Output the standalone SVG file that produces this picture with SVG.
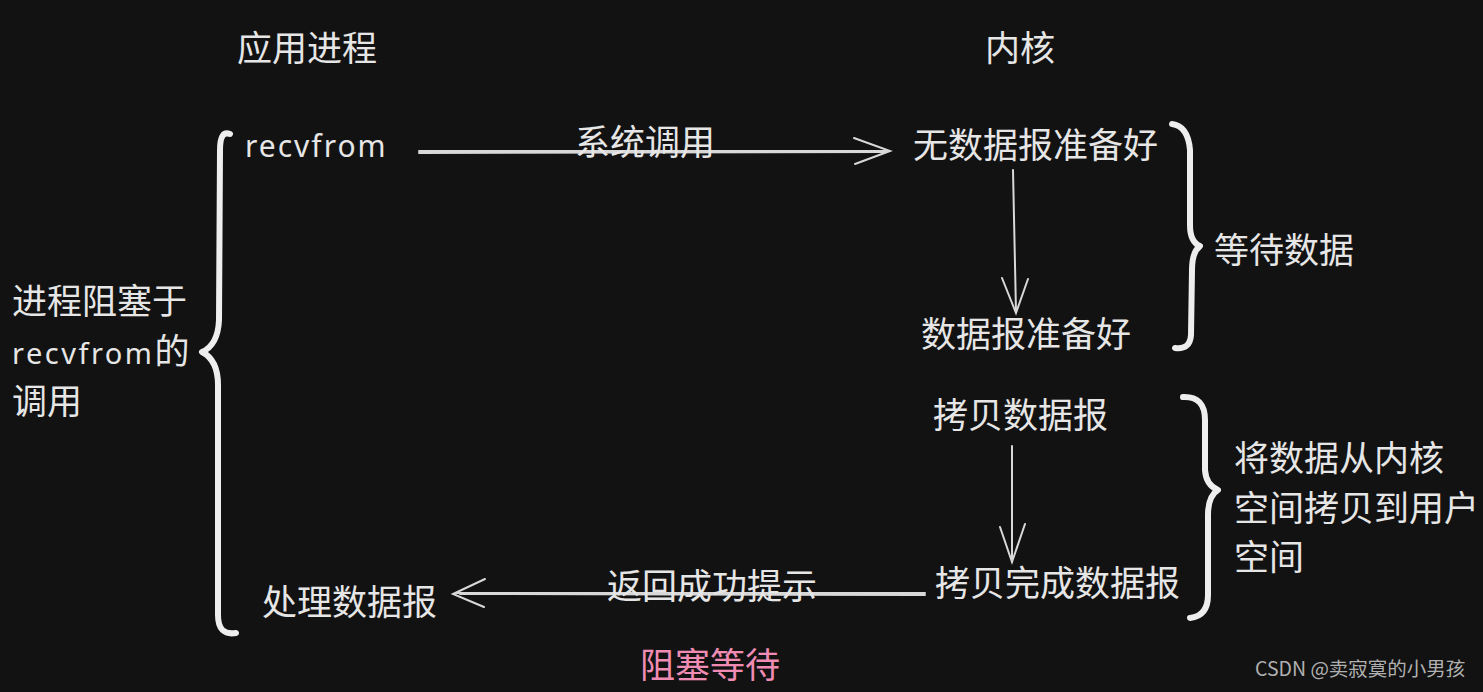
<svg xmlns="http://www.w3.org/2000/svg" width="1483" height="692" viewBox="0 0 1483 692">
<defs>
<style>
.t{font-family:"Noto Sans CJK SC","Noto Sans",sans-serif;font-size:35px;fill:#e6e6e6}
.hw{font-family:"Noto Sans","Liberation Sans",sans-serif;font-size:30px;letter-spacing:2px;fill:#e6e6e6}
.ln{stroke:#d8d8d8;stroke-width:2;fill:none;stroke-linecap:round}
.br{stroke:#eeeeee;stroke-width:6;fill:none;stroke-linecap:round;stroke-linejoin:round}
</style>
</defs>
<rect width="1483" height="692" fill="#121212"/>
<g id="hdr-app"><text class="t" x="237" y="61">应用进程</text></g>
<g id="hdr-kernel"><text class="t" x="985" y="61">内核</text></g>
<g id="recvfrom"><text class="hw" x="245" y="157">recvfrom</text></g>
<g id="no-data"><text class="t" x="913" y="158">无数据报准备好</text></g>
<g id="data-ready"><text class="t" x="921" y="347">数据报准备好</text></g>
<g id="wait-data"><text class="t" x="1214" y="263">等待数据</text></g>
<g id="copy"><text class="t" x="933" y="428">拷贝数据报</text></g>
<g id="copy-done"><text class="t" x="935" y="596">拷贝完成数据报</text></g>
<g id="copy-label">
<text class="t" x="1234" y="471">将数据从内核</text>
<text class="t" x="1234" y="521">空间拷贝到用户</text>
<text class="t" x="1234" y="570">空间</text>
</g>
<g id="blocked">
<text class="t" x="12" y="314">进程阻塞于</text>
<text class="t" x="12" y="364"><tspan class="hw" style="font-size:29px;letter-spacing:2.5px">recvfrom</tspan>的</text>
<text class="t" x="12" y="414">调用</text>
</g>
<g id="handle"><text class="t" x="262" y="615">处理数据报</text></g>
<g id="block-wait"><text class="t" x="640" y="678" style="fill:#f08cb4">阻塞等待</text></g>
<g id="braces">
<path class="br" d="M230 134 Q220 130 220 150 L219 320 Q218 345 202 352 Q218 360 218 385 L218 615 Q218 636 236 633"/>
<path class="br" d="M1172 124 Q1188 126 1190 150 L1190 225 Q1190 242 1200 246 Q1192 252 1192 270 L1191 335 Q1190 350 1175 348"/>
<path class="br" d="M1183 397 Q1205 396 1205 420 L1205 470 Q1206 485 1218 490 Q1208 496 1208 515 L1208 595 Q1208 616 1190 618"/>
</g>
<g id="connectors">
<path class="ln" d="M419 151 L888 151 M419 153 L885 152"/>
<path class="ln" d="M854 138 L890 151 L855 164"/>
<text class="t" x="575" y="155">系统调用</text>
<path class="ln" d="M1013 170 L1016 312"/>
<path class="ln" d="M1002 278 L1016 313 L1028 279"/>
<path class="ln" d="M1012 446 L1012 562"/>
<path class="ln" d="M1000 527 L1012 562 L1025 524"/>
<path class="ln" d="M925 593 L456 593 M925 595 L460 594"/>
<path class="ln" d="M485 579 L453 594 L484 607"/>
<text class="t" x="607" y="599">返回成功提示</text>
</g>
<text x="1255" y="676" style="font-family:'Noto Sans CJK SC','Noto Sans',sans-serif;font-size:19.5px;fill:#b0b0b0">CSDN @卖寂寞的小男孩</text>
</svg>
